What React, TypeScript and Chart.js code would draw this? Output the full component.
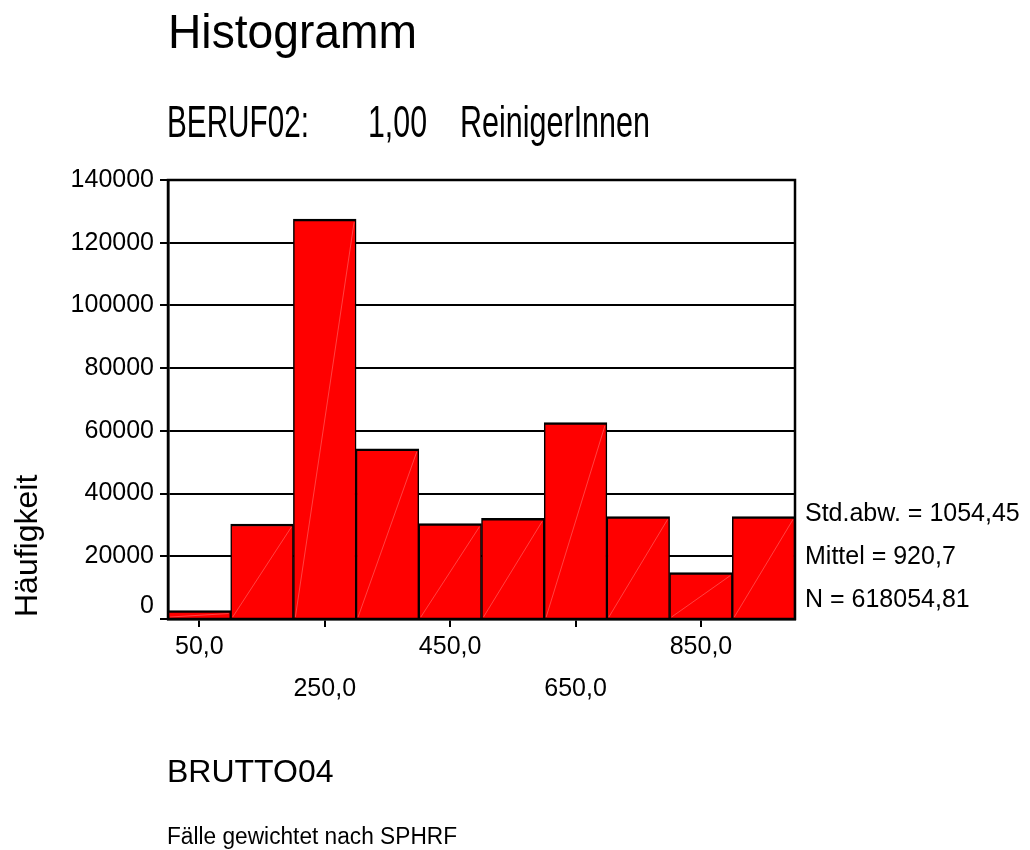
import React, { useEffect, useRef } from 'react';
import { Chart, registerables } from 'chart.js';

Chart.register(...registerables);

// ---- data ----
const binCenters = [50, 150, 250, 350, 450, 550, 650, 750, 850, 950];
const frequencies = [2700, 30300, 127500, 54300, 30400, 32100, 62600, 32700, 14800, 32700];
const xTickValues = [50, 250, 450, 650, 850];
const xTickLabels = ['50,0', '250,0', '450,0', '650,0', '850,0'];
const yTickValues = [0, 20000, 40000, 60000, 80000, 100000, 120000, 140000];
const titleText = 'Histogramm';
const subtitleParts = ['BERUF02:', '1,00', 'ReinigerInnen'];
const yAxisTitle = 'Häufigkeit';
const xAxisTitle = 'BRUTTO04';
const footnote = 'Fälle gewichtet nach SPHRF';
const statsLines = ['Std.abw. = 1054,45', 'Mittel = 920,7', 'N = 618054,81'];

const FONT = "'Liberation Sans', Arial, Helvetica, sans-serif";

const decorPlugin = {
  id: 'decor',
  afterDatasetsDraw(chart: any) {
    const ctx = chart.ctx;
    const area = chart.chartArea;
    const meta = chart.getDatasetMeta(0);
    ctx.save();
    // faint diagonal seams inside bars
    ctx.strokeStyle = 'rgba(255,185,185,0.6)';
    ctx.lineWidth = 0.6;
    meta.data.forEach((bar: any) => {
      const w = bar.width;
      const l = bar.x - w / 2 + 2;
      const r = bar.x + w / 2 - 2;
      ctx.beginPath();
      ctx.moveTo(l, bar.base - 1);
      ctx.lineTo(r, bar.y + 3);
      ctx.stroke();
    });
    // frame
    ctx.strokeStyle = '#000';
    ctx.lineWidth = 2.5;
    ctx.strokeRect(area.left, area.top, area.right - area.left, area.bottom - area.top);
    ctx.restore();
  },
  afterDraw(chart: any) {
    const ctx = chart.ctx;
    const area = chart.chartArea;
    ctx.save();
    ctx.fillStyle = '#000';
    ctx.textAlign = 'left';
    ctx.textBaseline = 'alphabetic';
    // title
    ctx.font = `48px ${FONT}`;
    ctx.fillText(titleText, 168, 48, 249);
    // subtitle (condensed)
    ctx.font = `44px ${FONT}`;
    ctx.fillText(subtitleParts[0], 167, 137, 142);
    ctx.fillText(subtitleParts[1], 368, 137, 59);
    ctx.fillText(subtitleParts[2], 460, 137, 190);
    // y axis title
    ctx.save();
    ctx.translate(37, 617);
    ctx.rotate(-Math.PI / 2);
    ctx.font = `32px ${FONT}`;
    ctx.fillText(yAxisTitle, 0, 0, 145);
    ctx.restore();
    // x axis title
    ctx.font = `32px ${FONT}`;
    ctx.fillText(xAxisTitle, 167, 782);
    // footnote
    ctx.font = `23px ${FONT}`;
    ctx.fillText(footnote, 167, 844, 290);
    // stats
    ctx.font = `25px ${FONT}`;
    ctx.textBaseline = 'middle';
    const offs = [105, 62, 19];
    statsLines.forEach((s, i) => {
      ctx.fillText(s, area.right + 10, area.bottom - offs[i]);
    });
    ctx.restore();
  },
};

export default function App() {
  const canvasRef = useRef<HTMLCanvasElement | null>(null);

  useEffect(() => {
    if (!canvasRef.current) return;
    const chart = new Chart(canvasRef.current, {
      type: 'bar',
      data: {
        datasets: [
          {
            data: binCenters.map((c, i) => ({ x: c, y: frequencies[i] })),
            backgroundColor: '#ff0000',
            borderColor: '#000000',
            borderWidth: { top: 2.5, left: 1.5, right: 1.5, bottom: 0 },
            borderSkipped: false,
            barPercentage: 1,
            categoryPercentage: 1,
          },
        ],
      },
      plugins: [decorPlugin],
      options: {
        animation: false,
        responsive: false,
        devicePixelRatio: 1,
        layout: { padding: { left: 0, top: 180, right: 235, bottom: 0 } },
        plugins: {
          legend: { display: false },
          title: { display: false },
          tooltip: { enabled: false },
        },
        scales: {
          x: {
            type: 'linear',
            min: 0,
            max: 1000,
            offset: false,
            afterBuildTicks(scale: any) {
              scale.ticks = xTickValues.map((v) => ({ value: v }));
            },
            afterFit(scale: any) {
              scale.height = 231;
            },
            grid: {
              display: true,
              offset: false,
              drawOnChartArea: false,
              drawTicks: true,
              tickLength: 8,
              color: '#000',
              lineWidth: 2,
            },
            border: { display: true, color: '#000', width: 2.5 },
            ticks: {
              autoSkip: false,
              maxRotation: 0,
              minRotation: 0,
              padding: -1,
              color: '#000',
              font: { family: FONT, size: 25, lineHeight: 1.68 },
              callback(value: any) {
                const i = xTickValues.indexOf(Number(value));
                if (i < 0) return '';
                return i % 2 === 0 ? xTickLabels[i] : ['', xTickLabels[i]];
              },
            },
          },
          y: {
            type: 'linear',
            min: 0,
            max: 140000,
            afterBuildTicks(scale: any) {
              scale.ticks = yTickValues.map((v) => ({ value: v }));
            },
            afterFit(scale: any) {
              scale.width = 168;
            },
            grid: {
              display: true,
              drawOnChartArea: true,
              drawTicks: true,
              tickLength: 8,
              color: '#000',
              lineWidth: 2,
            },
            border: { display: true, color: '#000', width: 2.5 },
            ticks: {
              padding: 6,
              color: '#000',
              font: { family: FONT, size: 25, lineHeight: 1.04 },
              callback(value: any) {
                const v = Number(value);
                return v === 0 ? ['0', ''] : String(v);
              },
            },
          },
        },
      },
    } as any);
    return () => chart.destroy();
  }, []);

  return (
    <div style={{ position: 'absolute', left: 0, top: 0, width: 1030, height: 850, background: '#fff' }}>
      <canvas ref={canvasRef} width={1030} height={850} style={{ display: 'block' }} />
    </div>
  );
}
